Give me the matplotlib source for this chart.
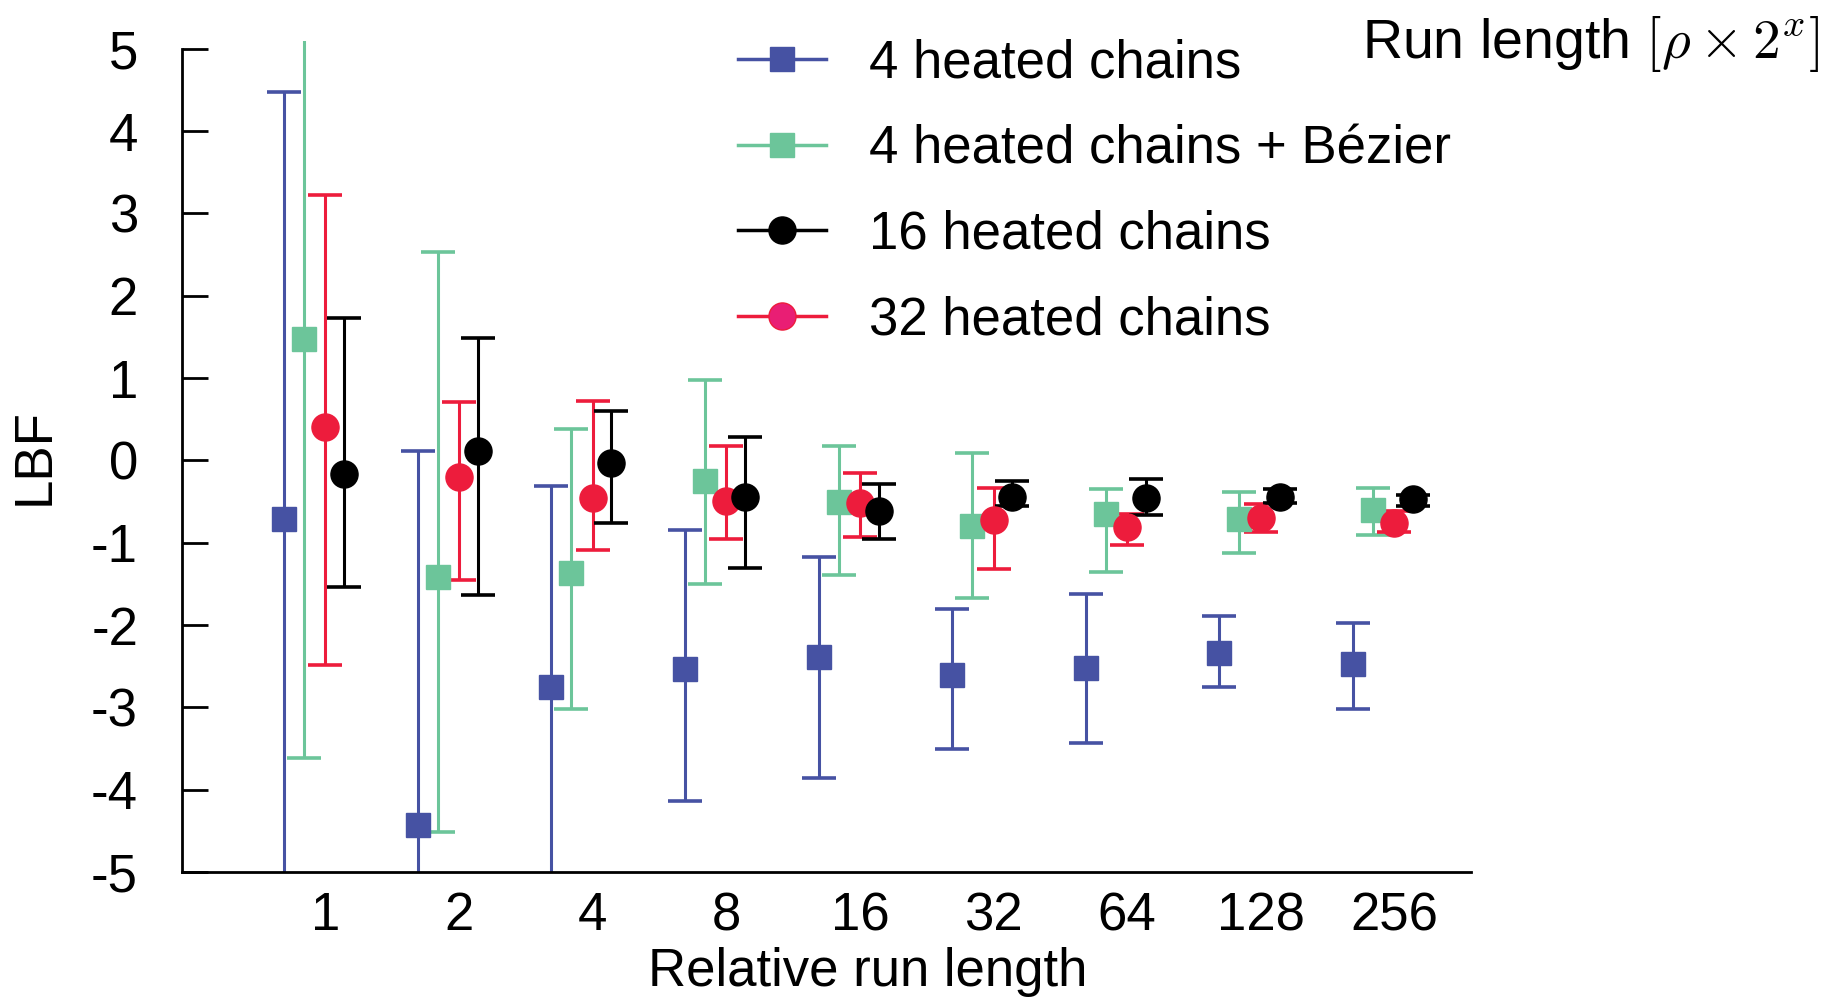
import matplotlib
matplotlib.use("Agg")
import matplotlib.pyplot as plt
from matplotlib.lines import Line2D
import numpy as np

plt.rcParams["font.family"] = ["Liberation Sans", "DejaVu Sans"]
plt.rcParams["mathtext.fontset"] = "cm"

run_lengths = ["1", "2", "4", "8", "16", "32", "64", "128", "256"]

# 4 heated chains
blue_mid = [-0.71, -4.43, -2.75, -2.53, -2.39, -2.61, -2.52, -2.34, -2.47]
blue_hi = [4.47, 0.12, -0.31, -0.84, -1.17, -1.80, -1.62, -1.89, -1.97]
blue_lo = [-5.4, -5.4, -5.4, -4.14, -3.86, -3.50, -3.43, -2.75, -3.02]

# 4 heated chains + Bezier
green_mid = [1.47, -1.42, -1.37, -0.25, -0.50, -0.80, -0.65, -0.71, -0.60]
green_hi = [5.3, 2.53, 0.38, 0.98, 0.18, 0.09, -0.35, -0.39, -0.34]
green_lo = [-3.61, -4.52, -3.02, -1.50, -1.39, -1.67, -1.35, -1.12, -0.91]

# 16 heated chains
black_mid = [-0.17, 0.11, -0.03, -0.44, -0.62, -0.44, -0.46, -0.44, -0.47]
black_hi = [1.73, 1.49, 0.60, 0.28, -0.29, -0.25, -0.22, -0.35, -0.42]
black_lo = [-1.54, -1.64, -0.76, -1.31, -0.95, -0.55, -0.66, -0.52, -0.56]

# 32 heated chains
red_mid = [0.40, -0.20, -0.46, -0.49, -0.52, -0.72, -0.81, -0.70, -0.76]
red_hi = [3.22, 0.71, 0.72, 0.18, -0.15, -0.34, -0.65, -0.53, -0.61]
red_lo = [-2.49, -1.45, -1.09, -0.95, -0.93, -1.32, -1.03, -0.87, -0.87]

BLUE = "#4652A3"
GREEN = "#6CC59A"
BLACK = "#000000"
RED = "#ED1C3C"
FS = 38

fig = plt.figure(figsize=(18.23, 9.97), dpi=100)
ax = fig.add_axes([0.1001, 0.1254, 0.7066, 0.8339])

idx = np.arange(len(run_lengths))
series = [
    (blue_mid, blue_lo, blue_hi, BLUE, "s", 17, -0.31),
    (green_mid, green_lo, green_hi, GREEN, "s", 17, -0.16),
    (red_mid, red_lo, red_hi, RED, "o", 19.5, 0.0),
    (black_mid, black_lo, black_hi, BLACK, "o", 19.5, 0.14),
]
for mid, lo, hi, col, mk, ms, off in series:
    mid = np.array(mid)
    err = [mid - np.array(lo), np.array(hi) - mid]
    ax.errorbar(idx + off, mid, yerr=err, fmt=mk, color=col, ms=ms,
                mec=col, elinewidth=2.2, capsize=12, capthick=2.6)

ax.set_xlim(-1.07, 8.57)
ax.set_ylim(-5, 5.1)
ax.set_xticks(idx)
ax.set_xticklabels(run_lengths)
ax.set_yticks(range(-5, 6))
ax.set_yticklabels([str(v) for v in range(-5, 6)])
ax.tick_params(axis="y", direction="in", length=19, width=2, labelsize=FS, pad=32)
ax.tick_params(axis="x", length=0, labelsize=FS, pad=14)
for s in ["top", "right"]:
    ax.spines[s].set_visible(False)
ax.spines["left"].set_bounds(-5, 5)
ax.spines["left"].set_linewidth(2)
ax.spines["bottom"].set_linewidth(2)

ax.set_xlabel("Relative run length", fontsize=FS, va="center")
ax.xaxis.set_label_coords(0.532, -0.12)
ax.set_ylabel("LBF", fontsize=FS, va="center", ha="center")
ax.yaxis.set_label_coords(-0.115, 0.5)

handles = [
    Line2D([], [], color=BLUE, lw=2.5, marker="s", ms=17),
    Line2D([], [], color=GREEN, lw=2.5, marker="s", ms=17),
    Line2D([], [], color=BLACK, lw=2.5, marker="o", ms=19.5),
    Line2D([], [], color=RED, lw=2.5, marker="o", ms=19.5, mfc="#E91E74", mec=RED),
]
labels = ["4 heated chains", "4 heated chains + Bézier",
          "16 heated chains", "32 heated chains"]
ax.legend(handles, labels, loc="upper left", bbox_to_anchor=(0.394, 1.06),
          frameon=False, fontsize=FS, handlelength=1.67, handletextpad=0.83,
          labelspacing=0.68)

fig.text(0.998, 0.956, r"Run length $[\rho\times2^x]$", fontsize=40,
         ha="right", va="center")

fig.savefig("out.png", dpi=100)
